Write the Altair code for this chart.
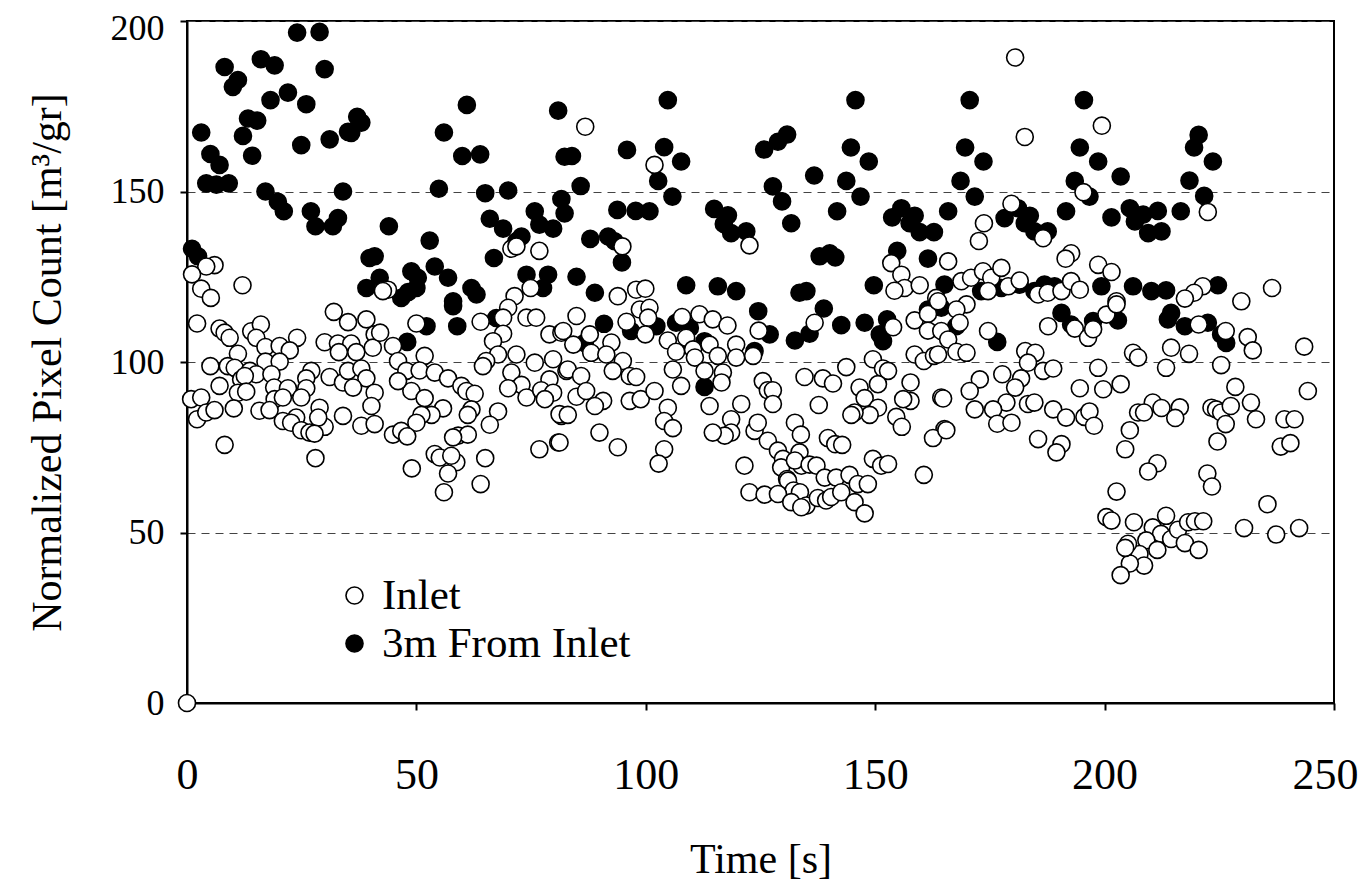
import altair as alt
import pandas as pd

# 3m From Inlet (filled)
far_x = [24.0, 28.9, 8.2, 16.1, 19.1, 30.0, 11.1, 10.0, 22.0, 18.2, 26.0, 13.3, 15.3, 3.1, 12.2, 24.9, 31.1,
         37.1, 38.0, 35.1, 35.8, 14.2, 5.1, 7.1, 4.2, 6.4, 9.1, 17.1, 19.8, 21.1, 27.0, 28.0, 32.9, 31.8, 34.0,
         1.1, 2.4, 39.8, 39.1,
         61.0, 80.9, 56.0, 60.0, 63.9, 54.9, 65.0, 70.0, 82.3, 81.6, 82.3, 66.0, 68.9, 75.8, 76.8, 79.8, 44.0,
         52.9, 72.9, 71.8, 40.9, 66.9, 54.0, 48.9, 50.3, 56.9, 42.0, 74.0, 78.7, 77.6, 62.0, 63.1, 48.2, 50.0,
         46.7, 58.0, 58.0, 58.9, 52.2, 48.0, 67.4,
         104.8, 83.9, 95.9, 104.0, 107.7, 102.7, 85.8, 105.8, 93.8, 97.8, 100.8, 114.9, 117.9, 117.0, 118.6,
         121.9, 87.9, 91.8, 93.2, 94.8, 84.9, 88.9, 108.8, 115.7, 119.7,
         90.9, 96.8, 102.3, 106.6, 109.6, 112.8, 112.8, 124.5, 86.7,
         145.7, 130.8, 128.8, 125.8, 144.7, 148.6, 136.7, 143.7, 146.8, 127.7, 129.7, 131.7, 141.7, 153.7,
         155.7, 158.6, 157.5, 159.7, 162.8, 165.9, 137.9, 140.1, 141.3, 154.8, 161.5, 149.7, 133.5, 135.0,
         127.0, 138.8, 142.6, 147.7, 152.6, 151.0, 151.7, 132.5, 135.7, 123.7, 161.5, 164.4,
         170.6, 195.5, 169.6, 173.6, 194.6, 198.6, 203.5, 168.6, 171.7, 193.5, 196.7, 178.2, 181.1, 183.7,
         182.6, 184.7, 187.6, 191.6, 201.5, 205.5, 206.6, 165.1, 184.7, 186.9, 189.1, 199.3, 206.2,
         173.1, 177.5, 181.5,
         176.6, 167.7, 190.6, 192.7, 197.5, 202.9,
         220.5, 219.5, 223.6, 218.5, 221.7, 208.4, 211.6, 209.5, 212.4, 216.6, 210.2, 213.4, 224.7,
         214.5, 213.8, 217.5, 222.5, 225.4, 226.5]
far_y = [196.6, 196.8, 186.5, 188.8, 187.0, 185.9, 182.7, 180.7, 179.0, 176.8, 175.6, 171.4, 170.8, 167.3, 166.3,
         163.6, 165.3, 171.9, 170.2, 167.5, 167.2, 160.5, 161.0, 157.8, 152.4, 152.0, 152.4, 150.0, 147.0, 144.2,
         144.2, 139.8, 142.2, 139.8, 150.0, 133.2, 131.0, 130.5, 121.7,
         175.4, 173.7, 167.3, 160.4, 160.9, 150.8, 149.5, 150.3, 160.2, 147.8, 143.6, 142.0, 139.1, 144.2, 140.3,
         139.1, 139.8, 135.6, 136.8, 135.4, 131.0, 130.5, 128.0, 126.6, 124.7, 124.7, 124.7, 125.6, 125.6, 121.7,
         121.7, 119.8, 120.5, 121.7, 118.8, 117.8, 116.4, 110.5, 110.5, 105.9, 112.9,
         176.8, 160.4, 162.2, 163.0, 158.8, 153.1, 151.6, 148.5, 144.6, 144.3, 144.2, 144.9, 143.0, 140.5, 137.8,
         138.3, 136.1, 136.8, 135.4, 129.2, 125.0, 120.3, 122.5, 122.2, 120.8,
         111.2, 109.1, 110.5, 111.5, 110.0, 106.1, 92.7, 114.9, 105.6,
         176.8, 166.7, 164.6, 162.3, 162.9, 158.8, 154.7, 153.1, 148.5, 151.5, 147.1, 140.7, 144.2, 142.4, 145.1,
         142.9, 140.7, 138.1, 138.1, 144.2, 131.0, 131.9, 130.7, 132.6, 130.3, 122.5, 120.3, 120.8,
         108.1, 115.7, 110.8, 111.5, 112.5, 108.1, 106.1, 106.3, 108.3, 103.2, 115.4, 115.9,
         176.8, 176.8, 162.9, 158.8, 162.9, 158.8, 154.4, 153.1, 148.5, 153.1, 148.5, 142.2, 145.1, 142.9,
         140.7, 138.3, 138.3, 144.2, 142.4, 145.1, 141.2, 122.7, 120.8, 122.7, 122.2, 122.2, 122.2,
         120.8, 121.7, 122.7,
         105.9, 110.5, 114.4, 111.0, 112.0, 112.2,
         166.6, 162.9, 158.8, 153.2, 148.7, 143.2, 144.3, 137.8, 138.3, 144.2, 120.8, 121.0, 122.5,
         114.4, 112.5, 110.5, 111.5, 108.1, 105.6]

# Inlet (open)
inlet_x = [0.0, 6.0, 4.2, 1.1, 3.1, 12.1, 5.2,
           2.2, 7.1, 8.2, 9.3, 14.0, 16.1, 15.1, 32.0, 35.1, 39.1, 24.0, 30.0, 32.9, 35.8, 33.1, 36.9, 40.9,
           40.5, 11.1, 17.1, 20.2, 22.4, 17.1, 20.2, 5.1, 8.9, 10.4, 13.7, 15.1, 18.4, 27.1, 26.0, 26.0, 31.1,
           34.0, 35.1, 38.0, 39.1, 36.2, 11.8, 12.6, 7.1, 19.0, 22.0, 0.9, 3.1, 11.1, 12.9, 40.9, 40.2, 19.1,
           20.9, 24.9, 2.2, 4.2, 6.0, 10.2, 15.8, 18.0, 20.9, 23.8, 22.7, 28.9, 30.0, 34.0, 28.6, 24.9, 26.7,
           27.8, 38.0, 8.2, 28.0,
           70.7, 71.8, 76.8, 43.8, 42.7, 74.9, 71.4,
           50.0, 64.0, 70.0, 68.9, 68.9, 74.0, 76.1, 79.0, 81.6, 42.1, 44.9, 66.7, 67.8, 65.2, 64.5, 71.8, 51.8,
           46.0, 47.8, 50.7, 54.0, 56.9, 59.8, 60.9, 62.7, 75.8, 79.8, 82.7, 70.7, 72.9, 74.0, 70.0, 79.0, 77.2,
           79.8, 78.0, 48.9, 51.8, 46.0, 62.0, 61.2, 55.8, 53.3, 51.1, 50.0, 67.8, 66.0, 81.6, 44.9, 46.7, 48.0,
           59.1, 61.2, 58.0, 54.0, 55.1, 58.7, 57.6, 56.9, 65.0, 49.0, 76.8, 80.9, 56.0, 64.0, 40.9,
           86.8, 101.9, 94.9, 122.6, 93.9, 97.9, 99.9,
           84.9, 98.7, 100.8, 100.5, 95.8, 99.9, 107.9, 111.7, 114.6, 117.8, 108.8, 113.9, 115.7, 119.7, 119.7,
           123.4, 104.8, 106.6, 110.3, 110.7, 82.0, 84.2, 87.8, 88.1, 92.5, 91.4, 95.0, 92.8, 83.0, 85.9, 96.5,
           97.9, 105.9, 107.7, 112.8, 116.8, 116.5, 84.9, 87.0, 90.7, 88.9, 96.5, 98.9, 101.9, 104.8, 104.0,
           105.9, 113.9, 120.8, 118.6, 118.6, 117.2, 114.6, 81.2, 83.0, 81.2, 89.9, 93.9, 104.0, 102.8, 121.5,
           122.6, 123.7,
           153.5, 155.7, 156.4, 154.2, 159.7, 163.3, 165.9,
           124.6, 136.8, 153.9, 158.6, 161.5, 163.7, 161.5, 164.4, 158.6, 160.6, 162.8, 143.7, 149.5, 151.7,
           152.8, 134.6, 138.6, 140.8, 125.5, 126.6, 127.7, 127.7, 146.6, 147.7, 150.6, 150.6, 148.8, 145.5,
           144.8, 157.7, 157.7, 156.1, 137.7, 164.4, 124.4, 132.5, 133.8, 154.6, 155.8, 165.1, 139.7, 141.3,
           142.8, 162.6, 126.6, 128.8, 129.9, 129.5, 130.8, 133.5, 133.9, 132.5, 135.7, 137.2, 139.0, 141.5,
           144.4, 146.2, 148.4, 149.5, 151.3, 152.8, 160.6, 131.0, 132.2, 133.6, 125.9, 128.8, 131.7, 135.0,
           137.5, 139.3, 140.4, 142.6, 145.5, 147.7, 133.9,
           180.5, 182.6, 199.4, 179.7, 195.4, 173.7, 172.6, 186.6, 192.7, 191.5, 198.6, 201.5, 168.8, 170.9,
           173.5, 175.3, 177.5, 179.0, 181.5, 174.6, 185.5, 187.6, 190.6, 192.7, 194.6, 202.6,
           174.6, 169.9, 167.7, 168.4, 165.9, 167.7, 169.9, 163.7, 187.7, 193.5, 196.4, 197.5, 200.4, 202.6,
           182.7, 184.9, 183.3, 186.6, 188.8, 198.6, 206.2, 207.3, 172.8, 170.6, 171.7, 177.7, 181.8, 180.5,
           178.6, 175.7, 176.6, 179.7, 183.3, 184.7, 188.8, 191.6, 194.6, 199.7, 203.5, 195.6, 196.7, 197.7,
           164.8, 165.5, 185.5, 190.6, 189.5, 205.5, 204.5, 207.3, 202.6, 200.4, 201.5, 206.4,
           222.5, 221.4, 219.5, 217.5, 236.5, 229.8,
           220.5, 226.4, 231.2, 232.3, 243.5, 214.5, 218.4, 213.4, 225.4, 228.5, 244.3, 210.5, 208.6, 212.4,
           216.4, 215.4, 223.3, 224.3, 225.4, 227.5, 226.4, 224.6, 231.9, 233.0, 239.2, 241.4, 238.4, 240.5,
           211.5, 209.5, 222.4, 223.4, 235.5, 230.4, 237.4, 242.4, 210.5, 213.4, 212.3, 214.5, 216.0, 217.5,
           218.2, 219.7, 221.5, 220.5, 209.1, 211.5, 207.6, 208.6, 205.1, 205.5, 203.5, 204.5]
inlet_y = [0.0, 128.4, 128.0, 125.7, 121.5, 122.5, 118.8,
           111.3, 109.8, 108.6, 107.1, 109.0, 111.0, 107.1, 114.7, 111.7, 112.5, 107.1, 105.8, 105.4, 105.4, 102.9,
           102.9, 108.1, 104.2, 102.4, 104.4, 104.7, 103.4, 100.1, 100.1, 98.8, 98.8, 98.3, 97.4, 96.4, 96.4, 97.4,
           95.2, 92.3, 95.6, 94.0, 97.4, 98.1, 95.2, 92.5, 94.9, 95.9, 93.0, 92.5, 92.3, 89.1, 89.6, 91.0, 91.3,
           91.0, 87.1, 89.1, 89.6, 89.6, 83.2, 85.2, 85.9, 86.4, 85.7, 85.9, 82.7, 83.7, 82.2, 86.6, 81.0, 84.2,
           83.7, 80.0, 79.3, 79.0, 81.3, 75.7, 71.8,
           133.2, 133.9, 132.6, 121.2, 120.8, 121.7, 119.3,
           111.3, 111.8, 115.9, 113.0, 108.3, 113.0, 113.0, 108.1, 108.6, 108.6, 104.7, 106.1, 102.2, 100.3, 98.8,
           102.2, 101.8, 100.3, 97.4, 97.5, 96.9, 95.2, 93.0, 91.5, 90.7, 99.8, 100.8, 97.4, 96.9, 93.3, 89.6,
           92.3, 94.9, 91.7, 91.0, 89.1, 91.5, 89.4, 94.4, 86.1, 84.5, 86.4, 84.5, 84.5, 82.2, 85.5, 81.6, 84.2,
           78.7, 79.8, 78.2, 78.4, 78.7, 77.9, 73.0, 72.0, 70.6, 72.5, 67.3, 71.8, 68.8, 74.4, 76.4, 61.8, 64.2,
           81.8,
           169.0, 157.8, 133.9, 134.2, 119.3, 121.2, 121.5,
           113.5, 115.4, 115.9, 113.0, 111.8, 108.1, 113.2, 114.0, 112.5, 110.7, 107.1, 105.1, 101.8, 105.1, 101.3,
           101.8, 106.3, 103.0, 103.7, 101.3, 109.1, 105.1, 108.1, 102.7, 105.7, 102.2, 100.3, 97.4, 97.8, 95.9,
           95.9, 95.6, 97.8, 93.0, 97.4, 96.9, 94.0, 89.8, 91.5, 88.6, 87.1, 88.6, 89.1, 91.5, 86.6, 82.7, 80.6,
           87.1, 87.7, 83.2, 79.3, 78.4, 79.3, 84.7, 84.5, 76.4, 79.3, 75.0, 74.4, 70.2, 69.6, 61.8, 79.8,
           129.0, 125.6, 121.7, 120.9, 122.5, 118.8, 129.5,
           109.2, 111.5, 110.2, 112.2, 114.1, 117.8, 109.2, 109.1, 102.2, 100.3, 101.8, 98.5, 100.8, 98.1, 97.4,
           95.6, 95.2, 93.7, 94.4, 91.7, 91.7, 87.7, 92.5, 89.4, 93.5, 86.6, 84.5, 85.2, 84.5, 94.0, 88.6, 89.1,
           87.4, 89.6, 82.2, 82.2, 78.7, 83.9, 81.0, 80.3, 77.7, 75.9, 75.7, 77.7, 76.9, 74.0, 71.6, 69.1, 65.7,
           73.5, 69.6, 71.1, 69.9, 69.6, 66.1, 66.1, 66.9, 64.2, 64.2, 71.6, 69.6, 70.1, 66.9, 65.2, 62.3, 61.8,
           61.1, 61.3, 58.9, 57.9, 60.1, 59.4, 60.4, 61.8, 58.9, 55.6, 57.4,
           189.3, 166.0, 169.3, 146.4, 149.8, 140.7, 135.5, 136.3, 131.9, 130.3, 128.5, 126.4, 123.7, 124.7,
           126.6, 124.7, 127.6, 122.2, 123.9, 120.8, 119.8, 120.3, 120.8, 123.7, 121.2, 117.8,
           109.1, 116.9, 115.4, 111.5, 106.6, 103.0, 102.7, 102.2, 110.5, 109.8, 107.1, 109.6, 113.9, 116.9,
           103.2, 102.7, 99.8, 97.4, 98.1, 98.3, 102.7, 101.3, 94.9, 91.5, 86.1, 96.4, 95.2, 92.5, 88.1, 86.1,
           81.9, 82.2, 87.7, 88.1, 86.1, 83.7, 92.3, 92.0, 93.5, 83.9, 85.5, 81.3, 89.3, 80.0, 77.4, 75.9,
           73.5, 80.0, 74.4, 85.2, 62.0, 54.5, 53.5, 53.0,
           144.0, 122.2, 120.3, 118.6, 121.7, 117.8,
           111.0, 109.1, 107.3, 103.4, 104.5, 104.2, 102.4, 98.3, 99.1, 92.7, 91.5, 88.1, 85.2, 86.5, 86.7, 83.6,
           86.6, 86.1, 85.2, 87.1, 81.8, 76.7, 88.1, 83.2, 83.2, 83.2, 75.2, 76.2, 70.3, 67.9, 67.3, 63.5, 58.3,
           51.3, 49.4, 51.3, 51.5, 54.9, 49.6, 48.1, 50.8, 46.9, 53.0, 53.3, 53.3, 44.9, 47.7, 44.9, 43.7, 40.3,
           46.7, 40.9, 37.5, 45.5]

series_names = ["Inlet", "3m From Inlet"]
x_ticks = [0, 50, 100, 150, 200, 250]
y_ticks = [0, 50, 100, 150, 200]

df = pd.concat([
    pd.DataFrame({"t": far_x, "v": far_y, "series": series_names[1]}),
    pd.DataFrame({"t": inlet_x, "v": inlet_y, "series": series_names[0]}),
], ignore_index=True)

FONT = "Liberation Serif"

chart = alt.Chart(df).mark_point(
    shape="circle", filled=True, size=290, stroke="black", strokeWidth=1.6, opacity=1
).encode(
    x=alt.X("t:Q", scale=alt.Scale(domain=[0, 250], nice=False),
            axis=alt.Axis(values=x_ticks, title="Time [s]", grid=False, tickSize=7,
                          labelFontSize=44, titleFontSize=42,
                          labelOffset={"condition": {"test": "datum.value == 250", "value": -9}, "value": 0},
                          labelPadding=43, titlePadding=42, labelFlush=False)),
    y=alt.Y("v:Q", scale=alt.Scale(domain=[0, 200], nice=False),
            axis=alt.Axis(values=y_ticks, title="Normalized Pixel Count [m³/gr]", grid=True,
                          gridDash=[8, 6], gridColor="#444444", gridWidth=1, tickSize=7,
                          labelFontSize=36, titleFontSize=42,
                          labelOffset={"condition": {"test": "datum.value == 200", "value": 7}, "value": 0},
                          labelPadding=16, titlePadding=41, labelFlush=False)),
    fill=alt.Fill("series:N", scale=alt.Scale(domain=series_names, range=["white", "black"]),
                  legend=alt.Legend(title=None, orient="none", legendX=146, legendY=553,
                                    labelFontSize=43, labelFont=FONT, labelColor="black",
                                    labelLimit=0,
                                    symbolType="circle", symbolSize=290, symbolStrokeColor="black",
                                    symbolStrokeWidth=1.6, symbolOpacity=1, rowPadding=4,
                                    labelOffset=6, padding=0)),
).properties(
    width=1147, height=682,
    autosize=alt.AutoSizeParams(type="none"),
    padding={"left": 179, "top": 13, "right": 28, "bottom": 178},
).configure_view(
    stroke="black", strokeWidth=2
).configure_axis(
    labelFont=FONT, titleFont=FONT,
    labelColor="black", titleColor="black", titleFontWeight="normal",
    domainColor="black", domainWidth=2, tickColor="black", tickWidth=2,
)

chart.save("out.html", embed_options={"renderer": "svg", "actions": False})
